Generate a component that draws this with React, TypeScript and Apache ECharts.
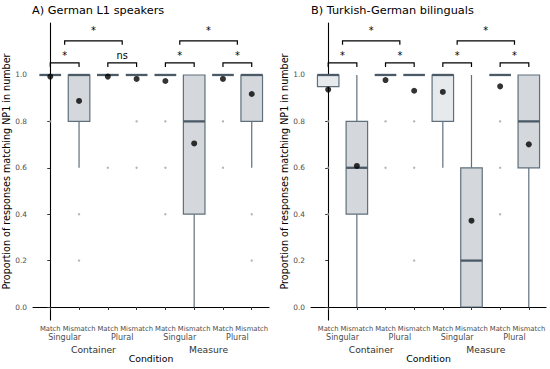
import React, { useEffect, useRef } from "react";
import * as echarts from "echarts";

// ---- data ----
const categories = ["Match", "Mismatch", "Match", "Mismatch", "Match", "Mismatch", "Match", "Mismatch"];
const numberLabels = ["Singular", "Plural", "Singular", "Plural"];
const nounLabels = ["Container", "Measure"];
const yTicks = [0, 0.2, 0.4, 0.6, 0.8, 1.0];
const panelTitles = ["A) German L1 speakers", "B) Turkish-German bilinguals"];

// [lower whisker, Q1, median, Q3, upper whisker]
const boxesA = [
  [1, 1, 1, 1, 1],
  [0.6, 0.8, 1, 1, 1],
  [1, 1, 1, 1, 1],
  [1, 1, 1, 1, 1],
  [1, 1, 1, 1, 1],
  [0, 0.4, 0.8, 1, 1],
  [1, 1, 1, 1, 1],
  [0.6, 0.8, 1, 1, 1],
];
const meansA = [0.993, 0.888, 0.993, 0.983, 0.974, 0.705, 0.983, 0.918];
const outliersA = [[0.8], [0.4, 0.2], [0.6], [0.8, 0.6], [0.8, 0.6, 0.4], [], [0.8, 0.6], [0.4, 0.2]];

const boxesB = [
  [0.95, 0.95, 1, 1, 1],
  [0, 0.4, 0.6, 0.8, 1],
  [1, 1, 1, 1, 1],
  [1, 1, 1, 1, 1],
  [0.6, 0.8, 1, 1, 1],
  [0, 0, 0.2, 0.6, 1],
  [1, 1, 1, 1, 1],
  [0, 0.6, 0.8, 1, 1],
];
const meansB = [0.937, 0.608, 0.978, 0.932, 0.927, 0.372, 0.951, 0.701];
const outliersB = [[0.8, 0.6, 0.4], [], [0.8, 0.6], [0.8, 0.6, 0.2], [], [], [0.8, 0.6, 0.4], []];

// significance brackets: [from, to, height]
const bracketsPos = [
  [0, 1, 1.052],
  [2, 3, 1.052],
  [4, 5, 1.052],
  [6, 7, 1.052],
  [0.5, 2.5, 1.147],
  [4.5, 6.5, 1.147],
];
const bracketLabelsA = ["*", "ns", "*", "*", "*", "*"];
const bracketLabelsB = ["*", "*", "*", "*", "*", "*"];

// ---- styles ----
const FONT = "DejaVu Sans, Liberation Sans, Arial, sans-serif";
const Y_MIN = -0.056;
const Y_MAX = 1.224;
const X_MIN = -0.6;
const X_MAX = 7.6;
const EDGE = "#5f6f7c";
const MEDIAN = "#4b5a67";
const FILL_MATCH = "#e7eaed";
const FILL_MISMATCH = "#d4d8dc";

function buildOption() {
  const panels = [
    { boxes: boxesA, means: meansA, outliers: outliersA, labels: bracketLabelsA },
    { boxes: boxesB, means: meansB, outliers: outliersB, labels: bracketLabelsB },
  ];
  const grids = [
    { left: 33, top: 23, width: 236, height: 297 },
    { left: 311, top: 23, width: 235, height: 297 },
  ].map((g) => ({ ...g, containLabel: false, outerBoundsMode: "none" }));

  const xAxis: any[] = [];
  const yAxis: any[] = [];
  const series: any[] = [];
  const title: any[] = [];

  panels.forEach((p, pi) => {
    title.push({
      text: panelTitles[pi],
      left: pi === 0 ? 32 : 311,
      top: 5,
      padding: 0,
      textStyle: { fontFamily: FONT, fontSize: 11.3, fontWeight: "normal", color: "#000" },
    });
    const base = {
      gridIndex: pi,
      type: "value",
      min: X_MIN,
      max: X_MAX,
      position: "bottom",
      splitLine: { show: false },
    };
    xAxis.push({
      ...base,
      axisLine: { show: true, lineStyle: { color: "#000", width: 1.1 } },
      axisTick: { show: true, length: 3, customValues: categories.map((_, i) => i), lineStyle: { color: "#333", width: 1 } },
      axisLabel: {
        customValues: categories.map((_, i) => i),
        formatter: (v: number) => categories[Math.round(v)],
        fontFamily: FONT,
        fontSize: 6.8,
        color: "#4d4d4d",
        margin: 5,
      },
      name: "Condition",
      nameLocation: "middle",
      nameGap: 34,
      nameTextStyle: { fontFamily: FONT, fontSize: 9.4, color: "#000" },
    });
    xAxis.push({
      ...base,
      axisLine: { show: false },
      axisTick: { show: false },
      axisLabel: {
        customValues: numberLabels.map((_, i) => i * 2 + 0.5),
        formatter: (v: number) => numberLabels[Math.round((v - 0.5) / 2)],
        fontFamily: FONT,
        fontSize: 8,
        color: "#4d4d4d",
        margin: 13.5,
      },
    });
    xAxis.push({
      ...base,
      axisLine: { show: false },
      axisTick: { show: false },
      axisLabel: {
        customValues: nounLabels.map((_, i) => i * 4 + 1.5),
        formatter: (v: number) => nounLabels[Math.round((v - 1.5) / 4)],
        fontFamily: FONT,
        fontSize: 9.2,
        color: "#333",
        margin: 24.5,
      },
    });
    yAxis.push({
      gridIndex: pi,
      type: "value",
      min: Y_MIN,
      max: Y_MAX,
      splitLine: { show: false },
      axisLine: { show: true, lineStyle: { color: "#000", width: 1.1 } },
      axisTick: { show: true, length: 3, customValues: yTicks, lineStyle: { color: "#333" } },
      axisLabel: {
        customValues: yTicks,
        formatter: (v: number) => v.toFixed(1),
        fontFamily: FONT,
        fontSize: 7.4,
        color: "#4d4d4d",
        margin: 6,
      },
      name: "Proportion of responses matching NP1 in number",
      nameLocation: "middle",
      nameGap: 20,
      nameTextStyle: { fontFamily: FONT, fontSize: 9.6, color: "#000" },
    });

    const xIdx = pi * 3;
    // boxes
    series.push({
      type: "custom",
      xAxisIndex: xIdx,
      yAxisIndex: pi,
      z: 2,
      data: p.boxes.map((b, i) => [i, ...b]),
      encode: { x: 0, y: [1, 2, 3, 4, 5] },
      renderItem: (params: any, api: any) => {
        const x = api.value(0);
        const pLo = api.coord([x, api.value(1)]);
        const pQ1 = api.coord([x, api.value(2)]);
        const pMed = api.coord([x, api.value(3)]);
        const pQ3 = api.coord([x, api.value(4)]);
        const pHi = api.coord([x, api.value(5)]);
        const half = api.size([0.75, 0])[0] / 2;
        const cx = pMed[0];
        const fill = Math.round(x) % 2 === 0 ? FILL_MATCH : FILL_MISMATCH;
        return {
          type: "group",
          children: [
            { type: "line", shape: { x1: cx, y1: pQ3[1], x2: cx, y2: pHi[1] }, style: { stroke: EDGE, lineWidth: 1.2 } },
            { type: "line", shape: { x1: cx, y1: pQ1[1], x2: cx, y2: pLo[1] }, style: { stroke: EDGE, lineWidth: 1.2 } },
            {
              type: "rect",
              shape: { x: cx - half, y: pQ3[1], width: half * 2, height: pQ1[1] - pQ3[1] },
              style: { fill, stroke: EDGE, lineWidth: 1.2 },
            },
            { type: "line", shape: { x1: cx - half, y1: pMed[1], x2: cx + half, y2: pMed[1] }, style: { stroke: MEDIAN, lineWidth: 2.3 } },
          ],
        };
      },
    });
    // outliers
    const outData: number[][] = [];
    p.outliers.forEach((vals, i) => vals.forEach((v) => outData.push([i, v])));
    series.push({
      type: "scatter",
      xAxisIndex: xIdx,
      yAxisIndex: pi,
      z: 3,
      symbol: "circle",
      symbolSize: 2.4,
      itemStyle: { color: "#a3a3a3" },
      data: outData,
    });
    // means
    series.push({
      type: "scatter",
      xAxisIndex: xIdx,
      yAxisIndex: pi,
      z: 4,
      symbol: "circle",
      symbolSize: 6,
      itemStyle: { color: "#000" },
      data: p.means.map((m, i) => [i, m]),
    });
    // brackets
    const labels = p.labels;
    series.push({
      type: "custom",
      xAxisIndex: xIdx,
      yAxisIndex: pi,
      z: 5,
      data: bracketsPos,
      encode: { x: [0, 1], y: 2 },
      renderItem: (params: any, api: any) => {
        const a = api.coord([api.value(0), api.value(2)]);
        const b = api.coord([api.value(1), api.value(2)]);
        const drop = 4;
        const lift = api.value(2) > 1.1 ? 5 : 2;
        return {
          type: "group",
          children: [
            {
              type: "polyline",
              shape: { points: [[a[0], a[1] + drop], [a[0], a[1]], [b[0], b[1]], [b[0], b[1] + drop]] },
              style: { stroke: "#000", lineWidth: 1.2, fill: "none" },
            },
            {
              type: "text",
              x: (a[0] + b[0]) / 2,
              y: a[1] - lift,
              style: {
                text: labels[params.dataIndex],
                align: "center",
                verticalAlign: "bottom",
                fontFamily: FONT,
                fontSize: 9.8,
                fill: "#000",
              },
            },
          ],
        };
      },
    });
  });

  return {
    animation: false,
    backgroundColor: "#fff",
    title,
    grid: grids,
    xAxis,
    yAxis,
    series,
  };
}

export default function App() {
  const ref = useRef<HTMLDivElement>(null);
  useEffect(() => {
    const chart = echarts.init(ref.current!, null, { renderer: "svg" });
    chart.setOption(buildOption() as any);
    return () => chart.dispose();
  }, []);
  return <div ref={ref} style={{ position: "absolute", left: 0, top: 0, width: 550, height: 369 }} />;
}
